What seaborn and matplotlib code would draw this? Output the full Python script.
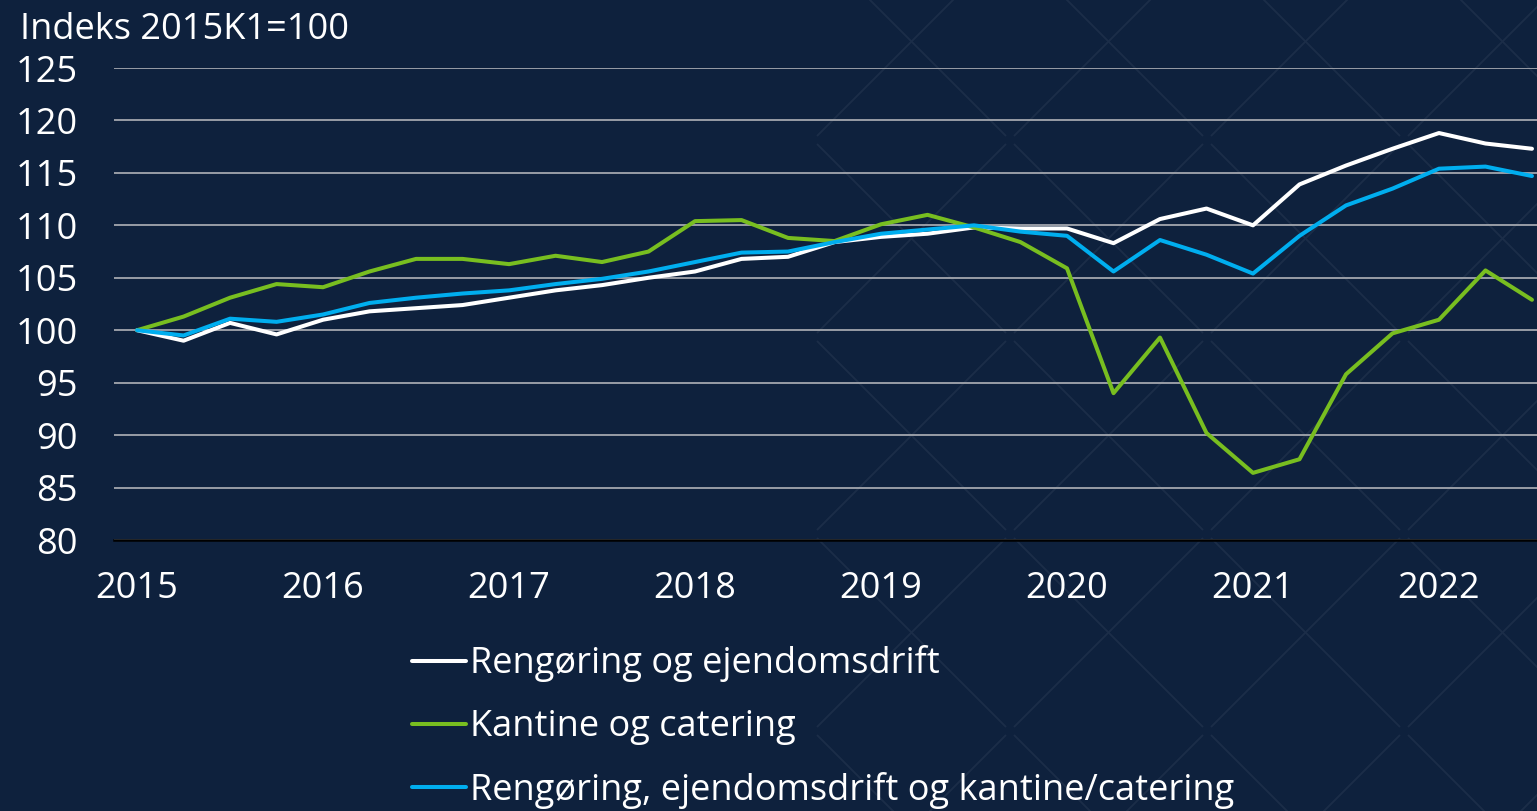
import numpy as np
import pandas as pd
import matplotlib.pyplot as plt
import seaborn as sns

# Data: quarterly index, 2015K1 = 100 (2015K1 .. 2022K3)
quarters = [f"{y}K{q}" for y in range(2015, 2023) for q in range(1, 5)][:31]
rengoering = [100.0, 99.0, 100.7, 99.6, 101.0, 101.8, 102.1, 102.4, 103.1, 103.8,
              104.3, 105.0, 105.6, 106.8, 107.0, 108.4, 108.9, 109.2, 109.8, 109.7,
              109.7, 108.3, 110.6, 111.6, 110.0, 113.9, 115.7, 117.3, 118.8, 117.8, 117.3]
kantine = [100.0, 101.3, 103.1, 104.4, 104.1, 105.6, 106.8, 106.8, 106.3, 107.1,
           106.5, 107.5, 110.4, 110.5, 108.8, 108.5, 110.1, 111.0, 109.8, 108.4,
           105.9, 94.0, 99.3, 90.2, 86.4, 87.7, 95.8, 99.7, 101.0, 105.7, 102.9]
samlet = [100.0, 99.5, 101.1, 100.8, 101.5, 102.6, 103.1, 103.5, 103.8, 104.4,
          104.9, 105.6, 106.5, 107.4, 107.5, 108.4, 109.2, 109.6, 110.0, 109.4,
          109.0, 105.6, 108.6, 107.2, 105.4, 109.0, 111.9, 113.5, 115.4, 115.6, 114.7]
series_names = ["Rengøring og ejendomsdrift",
                "Kantine og catering",
                "Rengøring, ejendomsdrift og kantine/catering"]
year_ticks = list(range(2015, 2023))
y_ticks = list(range(80, 130, 5))

# Long-form dataframe
t = [int(q[:4]) + (int(q[-1]) - 1) / 4 for q in quarters]
df = pd.DataFrame({
    "t": t * 3,
    "value": rengoering + kantine + samlet,
    "serie": [series_names[0]] * 31 + [series_names[1]] * 31 + [series_names[2]] * 31,
})

bg = "#0e213d"
palette = {series_names[0]: "#ffffff", series_names[1]: "#78be20", series_names[2]: "#00aeef"}

sns.set_style("white")
plt.rcParams["font.family"] = ["Open Sans", "DejaVu Sans"]
fs = 26
W, H = 1537, 811

fig = plt.figure(figsize=(W / 100, H / 100), dpi=100, facecolor=bg)

# Decorative background: faint tiles with crossed diagonals (right half)
bgax = fig.add_axes([0, 0, 1, 1], zorder=0)
bgax.set_xlim(0, W)
bgax.set_ylim(H, 0)
bgax.axis("off")
tile, inset = 197, 4
for x0 in np.arange(813, W, tile):
    for y0 in np.arange(-57, H, tile):
        a, b = x0 + inset, x0 + tile - inset
        c, d = y0 + inset, y0 + tile - inset
        bgax.plot([a, b], [c, d], color="#1b2d48", lw=1.4, solid_capstyle="butt")
        bgax.plot([a, b], [d, c], color="#1b2d48", lw=1.4, solid_capstyle="butt")

ax = fig.add_axes([114 / W, 1 - 540 / H, 1 - 114 / W, (540 - 68) / H], zorder=1)
ax.patch.set_alpha(0)

sns.lineplot(data=df, x="t", y="value", hue="serie", palette=palette,
             hue_order=series_names, linewidth=2.9, ax=ax, legend=False)

# Axes
ax.set_xlim(2014.876, 2022.527)
ax.set_ylim(80, 125)
ax.set_xticks(year_ticks)
ax.set_xticklabels([str(y) for y in year_ticks])
ax.set_yticks(y_ticks)
ax.set_xlabel("")
ax.set_ylabel("")
ax.tick_params(axis="both", colors="white", labelsize=fs, length=0)
ax.tick_params(axis="x", pad=22)
ax.tick_params(axis="y", pad=26)
ax.grid(axis="y", color="#a3a7ae", linewidth=1.3)
ax.grid(axis="x", visible=False)
ax.set_axisbelow(True)
for s in ["top", "right", "left"]:
    ax.spines[s].set_visible(False)
ax.spines["bottom"].set_color("#000000")
ax.spines["bottom"].set_linewidth(1.8)
ax.spines["bottom"].set_zorder(3)

# Title (unit)
fig.text(20 / W, 1 - 30 / H, "Indeks 2015K1=100", color="white",
         fontsize=fs, va="center", ha="left")

# Legend
handles = [plt.Line2D([], [], color=palette[n], linewidth=2.9) for n in series_names]
leg = fig.legend(handles, series_names, loc="upper left",
                 bbox_to_anchor=(398 / W, 1 - 631 / H),
                 frameon=False, fontsize=fs, handlelength=1.47,
                 handletextpad=0.12, labelspacing=0.74, borderaxespad=0)
for txt in leg.get_texts():
    txt.set_color("white")

fig.savefig("out.png", dpi=100, facecolor=bg)
plt.close(fig)
